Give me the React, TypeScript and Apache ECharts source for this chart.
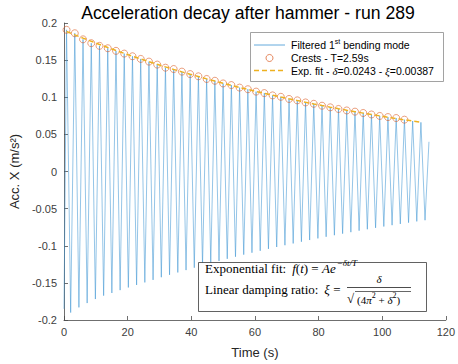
import React, { useEffect, useRef } from 'react';
import * as echarts from 'echarts';

// ---- text ----
const TITLE = 'Acceleration decay after hammer - run 289';
const X_LABEL = 'Time (s)';
const Y_LABEL = 'Acc. X (m/s²)';

// ---- modal parameters ----
const PERIOD = 2.59; // s
const DELTA = 0.0243; // logarithmic decrement
const XI = 0.00387; // damping ratio
const FIT_AMPLITUDE = 0.19; // m/s^2
const FIRST_CREST_TIME = 0.8; // s

// ---- axes ----
const X_MIN = 0;
const X_MAX = 120;
const X_STEP = 20;
const Y_MIN = -0.2;
const Y_MAX = 0.2;
const Y_STEP = 0.05;

// ---- filtered signal: successive crest and trough amplitudes (m/s^2) ----
const crestValues = [
  0.1908, 0.1862, 0.178, 0.1728, 0.1692, 0.166, 0.1625, 0.1588, 0.1552, 0.1516,
  0.148, 0.144, 0.1398, 0.138, 0.1345, 0.1312, 0.1282, 0.1246, 0.1222, 0.1186,
  0.1164, 0.113, 0.1108, 0.1076, 0.1056, 0.1025, 0.1006, 0.0977, 0.0958, 0.093,
  0.0912, 0.0886, 0.0864, 0.0842, 0.0822, 0.0806, 0.0788, 0.0768, 0.0748, 0.0733,
  0.072, 0.0698, 0.068, 0.0662,
];
const troughValues = [
  -0.19, -0.183, -0.1772, -0.1718, -0.1672, -0.1636, -0.1598, -0.1562, -0.1528, -0.1494,
  -0.146, -0.1424, -0.1392, -0.136, -0.1328, -0.1296, -0.1265, -0.1234, -0.1205, -0.1176,
  -0.1148, -0.112, -0.1094, -0.1068, -0.1042, -0.1017, -0.0993, -0.0969, -0.0946, -0.0923,
  -0.0901, -0.0879, -0.0858, -0.0837, -0.0817, -0.0797, -0.0778, -0.0759, -0.0741, -0.0723,
  -0.0706, -0.0689, -0.0672, -0.0656,
];
const signalStart: [number, number] = [0, -0.185];
const signalEnd: [number, number] = [114.7, 0.04];
const MARKED_CRESTS = 42; // crests picked by the peak finder

// ---- fonts ----
const SANS = '"Liberation Sans", Arial, Helvetica, sans-serif';
const SERIF = '"Liberation Serif", "Times New Roman", serif';

const measureCtx =
  typeof document !== 'undefined' ? document.createElement('canvas').getContext('2d') : null;
function textWidth(text: string, font: string): number {
  if (!measureCtx) return text.length * 6;
  measureCtx.font = font;
  return measureCtx.measureText(text).width;
}

type Piece = { text: string; font: string; dy?: number; gap?: number };

// lays out a run of text pieces side by side (for superscripts and mixed fonts)
function textRun(pieces: Piece[], x: number, y: number, fill = '#000'): any[] {
  const out: any[] = [];
  let cx = x;
  for (const p of pieces) {
    cx += p.gap || 0;
    out.push({
      type: 'text',
      x: cx,
      y: y + (p.dy || 0),
      z: 101,
      silent: true,
      style: {
        text: p.text,
        font: p.font,
        fill,
        textAlign: 'left',
        textVerticalAlign: 'middle',
        align: 'left',
        verticalAlign: 'middle',
      },
    });
    cx += textWidth(p.text, p.font);
  }
  return out;
}

function buildOption() {
  const crestTimes = crestValues.map((_, k) => FIRST_CREST_TIME + k * PERIOD);
  const troughTimes = troughValues.map((_, k) => FIRST_CREST_TIME + (k + 0.5) * PERIOD);

  const signal: [number, number][] = [signalStart];
  crestValues.forEach((c, k) => {
    signal.push([crestTimes[k], c]);
    signal.push([troughTimes[k], troughValues[k]]);
  });
  signal.push(signalEnd);

  const crests = crestValues
    .slice(0, MARKED_CRESTS)
    .map((c, k) => [crestTimes[k], c] as [number, number]);

  const fit = crestTimes.map(
    (t) => [t, FIT_AMPLITUDE * Math.exp((-DELTA * t) / PERIOD)] as [number, number]
  );

  const axisColor = '#4a4a4a';
  const legendFont = `10.5px ${SANS}`;
  const legendSup = `7px ${SANS}`;
  const legendIt = `italic 11px ${SERIF}`;
  const rm = `13px ${SERIF}`;
  const it = `italic 13px ${SERIF}`;
  const supIt = `italic 9px ${SERIF}`;
  const smRm = `11px ${SERIF}`;
  const smIt = `italic 11px ${SERIF}`;
  const tinyRm = `8px ${SERIF}`;

  // legend box
  const lgX = 250, lgY = 32, lgW = 193, lgH = 49;
  const rowY = [45, 58, 70.5];
  const sampleX0 = 254, sampleX1 = 285, textX = 291;

  // annotation box
  const bxX = 198, bxY = 262, bxW = 228, bxH = 49;

  const graphic: any[] = [
    {
      type: 'text',
      x: 248,
      y: 13,
      z: 101,
      silent: true,
      style: {
        text: TITLE,
        font: `17.6px ${SANS}`,
        fill: '#000',
        textAlign: 'center',
        textVerticalAlign: 'middle',
        align: 'center',
        verticalAlign: 'middle',
      },
    },
    // legend
    {
      type: 'rect',
      z: 100,
      silent: true,
      shape: { x: lgX + 0.5, y: lgY + 0.5, width: lgW, height: lgH },
      style: { fill: '#fff', stroke: '#8a8a8a', lineWidth: 0.8 },
    },
    {
      type: 'line',
      z: 101,
      silent: true,
      shape: { x1: sampleX0, y1: rowY[0], x2: sampleX1, y2: rowY[0] },
      style: { stroke: '#3d95d3', lineWidth: 0.8 },
    },
    {
      type: 'circle',
      z: 101,
      silent: true,
      shape: { cx: (sampleX0 + sampleX1) / 2, cy: rowY[1], r: 3.5 },
      style: { fill: 'none', stroke: '#D95319', lineWidth: 0.7 },
    },
    {
      type: 'line',
      z: 101,
      silent: true,
      shape: { x1: sampleX0, y1: rowY[2], x2: sampleX1, y2: rowY[2] },
      style: { stroke: '#EDB120', lineWidth: 1.5, lineDash: [5, 3] },
    },
    ...textRun(
      [
        { text: 'Filtered 1', font: legendFont },
        { text: 'st', font: legendSup, dy: -3.5 },
        { text: 'bending mode', font: legendFont, gap: textWidth(' ', legendFont) },
      ],
      textX,
      rowY[0]
    ),
    ...textRun([{ text: `Crests - T=${PERIOD}s`, font: legendFont }], textX, rowY[1]),
    ...textRun(
      [
        { text: 'Exp. fit - ', font: legendFont },
        { text: 'δ', font: legendIt },
        { text: `=${DELTA} - `, font: legendFont },
        { text: 'ξ', font: legendIt },
        { text: `=${XI}`, font: legendFont },
      ],
      textX,
      rowY[2]
    ),
    // annotation with the fit model and damping ratio
    {
      type: 'rect',
      z: 100,
      silent: true,
      shape: { x: bxX + 0.5, y: bxY + 0.5, width: bxW, height: bxH },
      style: { fill: '#fff', stroke: '#3a3a3a', lineWidth: 0.8 },
    },
    ...textRun(
      [
        { text: 'Exponential fit:', font: rm },
        { text: 'f', font: it, gap: 6 },
        { text: '(', font: rm },
        { text: 't', font: it },
        { text: ') = ', font: rm },
        { text: 'Ae', font: it },
        { text: '−δt/T', font: supIt, dy: -6, gap: 1 },
      ],
      205,
      268.5
    ),
    ...textRun(
      [
        { text: 'Linear damping ratio:', font: rm },
        { text: 'ξ', font: it, gap: 6 },
        { text: ' =', font: rm },
      ],
      205,
      289
    ),
    {
      type: 'text',
      x: 379,
      y: 279,
      z: 101,
      silent: true,
      style: {
        text: 'δ',
        font: smIt,
        fill: '#000',
        textAlign: 'center',
        textVerticalAlign: 'middle',
        align: 'center',
        verticalAlign: 'middle',
      },
    },
    {
      type: 'line',
      z: 101,
      silent: true,
      shape: { x1: 347, y1: 287.5, x2: 411, y2: 287.5 },
      style: { stroke: '#000', lineWidth: 0.7 },
    },
    ...textRun([{ text: '√', font: `13px ${SERIF}` }], 347, 298),
    {
      type: 'line',
      z: 101,
      silent: true,
      shape: { x1: 355, y1: 291.5, x2: 411, y2: 291.5 },
      style: { stroke: '#000', lineWidth: 0.6 },
    },
    ...textRun(
      [
        { text: '(4', font: smRm },
        { text: 'π', font: smIt },
        { text: '2', font: tinyRm, dy: -4 },
        { text: ' + ', font: smRm },
        { text: 'δ', font: smIt },
        { text: '2', font: tinyRm, dy: -4 },
        { text: ')', font: smRm },
      ],
      357,
      299.5
    ),
  ];

  return {
    animation: false,
    backgroundColor: '#fff',
    grid: { left: 64, right: 8, top: 23, bottom: 35, containLabel: false },
    xAxis: {
      type: 'value',
      min: X_MIN,
      max: X_MAX,
      interval: X_STEP,
      name: X_LABEL,
      nameLocation: 'middle',
      nameGap: 26,
      nameTextStyle: { fontFamily: SANS, fontSize: 13, color: '#262626' },
      axisLine: { show: true, onZero: false, lineStyle: { color: axisColor, width: 0.8 } },
      axisTick: { show: true, inside: true, length: 4, lineStyle: { color: axisColor, width: 0.8 } },
      splitLine: { show: false },
      axisLabel: { fontFamily: SANS, fontSize: 11, color: '#404040', margin: 6 },
    },
    yAxis: {
      type: 'value',
      min: Y_MIN,
      max: Y_MAX,
      interval: Y_STEP,
      name: Y_LABEL,
      nameLocation: 'middle',
      nameGap: 30,
      nameTextStyle: { fontFamily: SANS, fontSize: 13, color: '#262626' },
      axisLine: { show: true, onZero: false, lineStyle: { color: axisColor, width: 0.8 } },
      axisTick: { show: true, inside: true, length: 4, lineStyle: { color: axisColor, width: 0.8 } },
      splitLine: { show: false },
      axisLabel: {
        fontFamily: SANS,
        fontSize: 11,
        color: '#404040',
        margin: 7,
        formatter: (v: number) => String(parseFloat(v.toFixed(2))),
      },
    },
    series: [
      {
        name: 'Filtered 1st bending mode',
        type: 'line',
        data: signal,
        showSymbol: false,
        symbol: 'none',
        silent: true,
        z: 2,
        lineStyle: { color: '#3d95d3', width: 0.55 },
      },
      {
        name: 'Crests',
        type: 'scatter',
        data: crests,
        symbol: 'circle',
        symbolSize: 7,
        silent: true,
        z: 3,
        itemStyle: { color: 'rgba(0,0,0,0)', borderColor: '#D95319', borderWidth: 0.7 },
      },
      {
        name: 'Exp. fit',
        type: 'line',
        data: fit,
        showSymbol: false,
        symbol: 'none',
        silent: true,
        z: 4,
        lineStyle: { color: '#EDB120', width: 1.5, type: [5, 3] },
      },
    ],
    graphic,
  };
}

export default function App() {
  const ref = useRef<HTMLDivElement>(null);
  useEffect(() => {
    if (!ref.current) return;
    const chart = echarts.init(ref.current, undefined, { renderer: 'svg' });
    chart.setOption(buildOption() as any);
    return () => chart.dispose();
  }, []);
  return (
    <div
      ref={ref}
      style={{ position: 'fixed', left: 0, top: 0, width: 458, height: 364, background: '#fff' }}
    />
  );
}
